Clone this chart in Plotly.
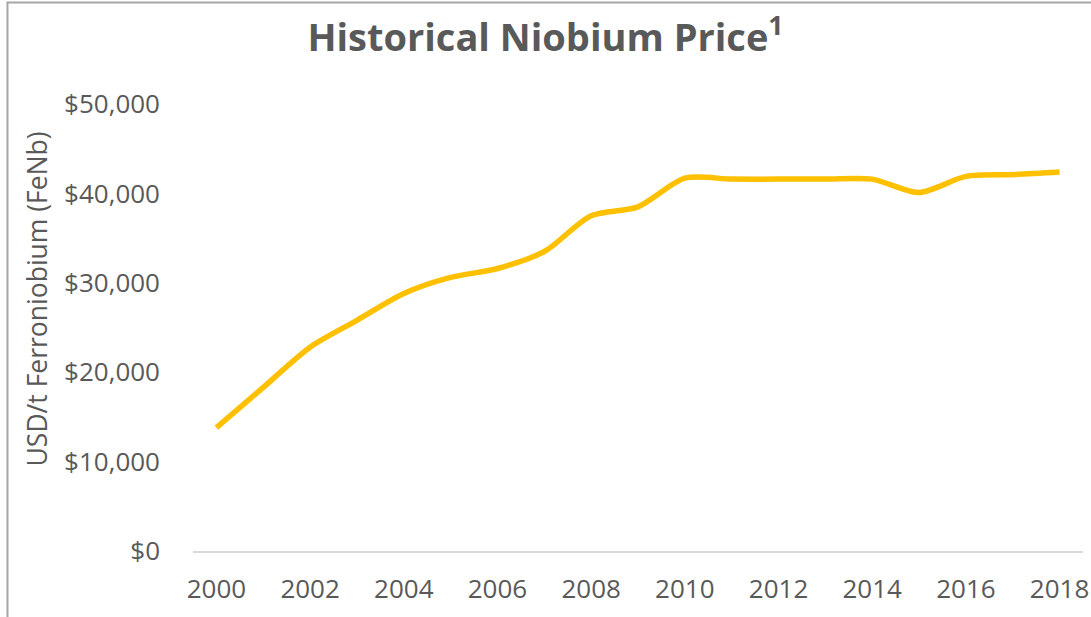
import plotly.graph_objects as go

years = list(range(2000, 2019))
prices = [13800, 18300, 22800, 25800, 28800, 30600, 31600, 33500, 37500, 38500,
          41700, 41600, 41600, 41600, 41600, 40100, 41900, 42100, 42400]
y_ticks = [0, 10000, 20000, 30000, 40000, 50000]
y_tick_labels = ["$0", "$10,000", "$20,000", "$30,000", "$40,000", "$50,000"]
x_ticks = list(range(2000, 2019, 2))

W, H = 1091, 617
L, R, T, B = 192.6, 8.0, 104, 66
pw = W - L - R
ph = H - T - B

fig = go.Figure()
fig.add_trace(go.Scatter(
    x=years, y=prices, mode="lines",
    line=dict(color="#FFC000", width=5.5, shape="spline", smoothing=0.8),
    hoverinfo="skip", showlegend=False,
))

gray = "#595959"
fig.update_layout(
    width=W, height=H,
    margin=dict(l=L, r=R, t=T, b=B, autoexpand=False),
    paper_bgcolor="white", plot_bgcolor="white",
    title=dict(text="<b>Historical Niobium Price</b><sup><b>1</b></sup>",
               x=0.5, xref="container", xanchor="center",
               y=1 - 38 / H, yref="container", yanchor="middle",
               font=dict(family="Open Sans", size=38, color=gray)),
    xaxis=dict(range=[1999.5, 2018.5], tickvals=x_ticks,
               showgrid=False, zeroline=False, showline=True,
               linecolor="#D9D9D9", linewidth=1.5, ticks="",
               ticklabelstandoff=14,
               tickfont=dict(family="Open Sans", size=26, color=gray)),
    yaxis=dict(range=[0, 50000], tickvals=y_ticks, ticktext=y_tick_labels,
               showgrid=False, zeroline=False, showline=False, ticks="",
               ticklabelstandoff=32,
               tickfont=dict(family="Open Sans", size=26, color=gray)),
    annotations=[dict(text="USD/t Ferroniobium (FeNb)", textangle=-90,
                      x=(37 - L) / pw, y=(551 - 299) / ph, xref="paper", yref="paper",
                      xanchor="center", yanchor="middle", showarrow=False,
                      font=dict(family="Open Sans", size=26.5, color=gray))],
    shapes=[dict(type="rect", xref="paper", yref="paper",
                 x0=(7 - L) / pw, x1=(W + 20 - L) / pw,
                 y0=(551 - (H + 20)) / ph, y1=(551 - 2.5) / ph,
                 line=dict(color="#A6A6A6", width=2), fillcolor="rgba(0,0,0,0)",
                 layer="below")],
)
fig.write_html("out.html", config={"displayModeBar": False},
               post_script="document.body.style.margin='0px';document.body.style.overflow='hidden';")
